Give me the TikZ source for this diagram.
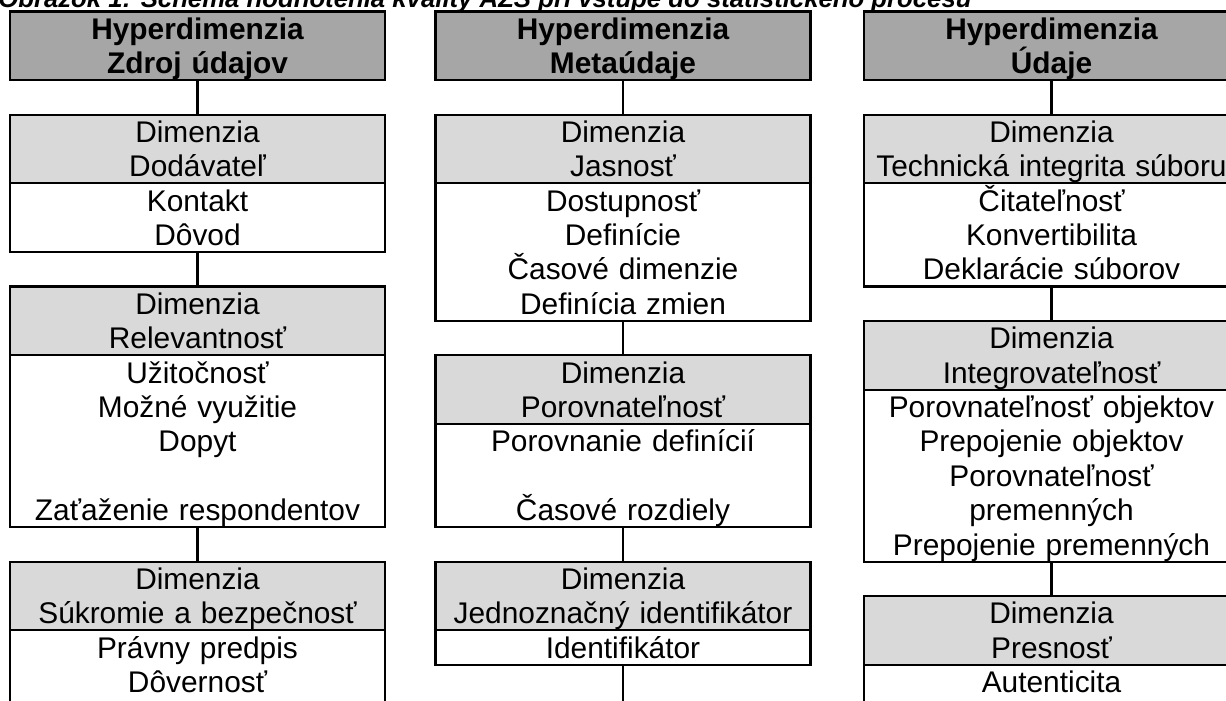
\documentclass[tikz,border=0pt]{standalone}
\usepackage{fontspec}
\setmainfont{Liberation Sans}
\usetikzlibrary{positioning}
\newcommand\stl{\rule[-0.22em]{0pt}{1.15em}}
\newcommand\bodyfnt{\fontsize{22.4pt}{25.8pt}\selectfont}
\newcommand\titlefnt{\fontsize{19.3pt}{22pt}\selectfont\bfseries\itshape}
\begin{document}
\begin{tikzpicture}[x=0.75pt,y=-0.75pt,
  box/.style={draw=black, line width=1.6pt, inner sep=0pt, outer sep=0pt,
    text width=281.25pt, align=center, font=\bodyfnt},
  hyperbox/.style={box, fill=black!35, font=\bodyfnt\bfseries},
  dimhead/.style={box, fill=black!15},
  dimbody/.style={box, fill=white},
  conn/.style={draw=black, line width=1.6pt}]
\useasboundingbox (0,0) rectangle (1226,700);
\clip (0,0) rectangle (1226,700);
\node[font=\titlefnt, anchor=base west, inner sep=0pt] (title) at (-2,7.5)
  {Obrázok 1: Schéma hodnotenia kvality AZS pri vstupe do štatistického procesu};

% column 1
\node[hyperbox, anchor=north] (h1) at (197.5,11.5) {\stl Hyperdimenzia\\\stl Zdroj údajov};
\node[dimhead, below=25.8pt of h1] (a1) {\stl Dimenzia\\\stl Dodávateľ};
\node[dimbody, below=0pt of a1] (a1b) {\stl Kontakt\\\stl Dôvod};
\node[dimhead, below=25.8pt of a1b] (a2) {\stl Dimenzia\\\stl Relevantnosť};
\node[dimbody, below=0pt of a2] (a2b) {\stl Užitočnosť\\\stl Možné využitie\\\stl Dopyt\\\stl\\\stl Zaťaženie respondentov};
\node[dimhead, below=25.8pt of a2b] (a3) {\stl Dimenzia\\\stl Súkromie a bezpečnosť};
\node[dimbody, below=0pt of a3] (a3b) {\stl Právny predpis\\\stl Dôvernosť\\\stl};
\draw[conn] (h1) -- (a1);
\draw[conn] (a1b) -- (a2);
\draw[conn] (a2b) -- (a3);

% column 2
\node[hyperbox, anchor=north] (h2) at (623,11.5) {\stl Hyperdimenzia\\\stl Metaúdaje};
\node[dimhead, below=25.8pt of h2] (b1) {\stl Dimenzia\\\stl Jasnosť};
\node[dimbody, below=0pt of b1] (b1b) {\stl Dostupnosť\\\stl Definície\\\stl Časové dimenzie\\\stl Definícia zmien};
\node[dimhead, below=25.8pt of b1b] (b2) {\stl Dimenzia\\\stl Porovnateľnosť};
\node[dimbody, below=0pt of b2] (b2b) {\stl Porovnanie definícií\\\stl\\\stl Časové rozdiely};
\node[dimhead, below=25.8pt of b2b] (b3) {\stl Dimenzia\\\stl Jednoznačný identifikátor};
\node[dimbody, below=0pt of b3] (b3b) {\stl Identifikátor};
\coordinate (b3end) at ([yshift=-40pt]b3b.south);
\draw[conn] (h2) -- (b1);
\draw[conn] (b1b) -- (b2);
\draw[conn] (b2b) -- (b3);
\draw[conn] (b3b) -- (b3end);

% column 3
\node[hyperbox, anchor=north] (h3) at (1051.5,11.5) {\stl Hyperdimenzia\\\stl Údaje};
\node[dimhead, below=25.8pt of h3] (c1) {\stl Dimenzia\\\stl Technická integrita súboru};
\node[dimbody, below=0pt of c1] (c1b) {\stl Čitateľnosť\\\stl Konvertibilita\\\stl Deklarácie súborov};
\node[dimhead, below=25.8pt of c1b] (c2) {\stl Dimenzia\\\stl Integrovateľnosť};
\node[dimbody, below=0pt of c2] (c2b) {\stl Porovnateľnosť objektov\\\stl Prepojenie objektov\\\stl Porovnateľnosť\\\stl premenných\\\stl Prepojenie premenných};
\node[dimhead, below=25.8pt of c2b] (c3) {\stl Dimenzia\\\stl Presnosť};
\node[dimbody, below=0pt of c3] (c3b) {\stl Autenticita\\\stl\\\stl};
\draw[conn] (h3) -- (c1);
\draw[conn] (c1b) -- (c2);
\draw[conn] (c2b) -- (c3);
\end{tikzpicture}
\end{document}
